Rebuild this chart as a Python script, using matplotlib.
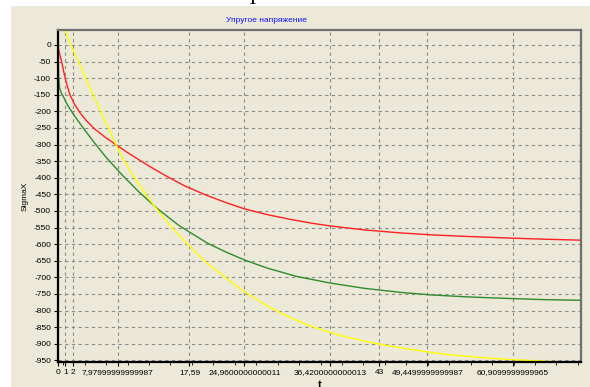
import numpy as np
import matplotlib
matplotlib.use('Agg')
import matplotlib.pyplot as plt
from matplotlib.patches import Rectangle

plt.rcParams['font.family'] = ['Liberation Sans', 'DejaVu Sans']
plt.rcParams['axes.unicode_minus'] = False

# curve readings: time t and sigma_x
t_red = [0, 0.2, 0.5, 0.95, 1.3, 1.6, 2.2, 2.9, 3.8, 4.9, 6.2, 7.6, 9.3, 11.2, 12.8,
         14.5, 17.0, 19.9, 22.5, 25.0, 28.0, 31.0, 34.0, 36.4, 39.0, 41.0, 45.75,
         50.0, 55.0, 60.9, 65.0, 70.0]
s_red = [-3, -25, -52, -100, -128, -150, -178, -203, -228, -253, -276, -298, -324,
         -351, -373, -395, -425, -453, -475, -494, -511, -525, -537, -545, -552,
         -557, -566, -572, -577, -582, -585, -588]

t_green = [0, 0.05, 0.1, 0.2, 0.4, 0.7, 1.2, 1.8, 2.6, 3.5, 4.95, 6.5, 8.6, 10.8,
           13.3, 16.2, 20.0, 22.5, 25.0, 28.0, 31.9, 36.4, 41.0, 45.75, 50.0, 55.0,
           60.9, 65.0, 70.0]
s_green = [0, -60, -100, -128, -143, -155, -178, -200, -226, -254, -297, -340, -392,
           -442, -493, -544, -597, -624, -648, -672, -697, -717, -733, -745, -753,
           -759, -764, -767, -769]

t_yellow = [0, 0.3, 0.6, 0.9, 1.7, 2.8, 3.85, 4.9, 5.9, 6.8, 7.7, 8.5, 9.3, 10.2,
            11.2, 12.3, 13.4, 14.6, 15.8, 17.1, 18.5, 20.0, 21.6, 23.3, 25.0, 26.5,
            28.1, 29.8, 31.5, 33.5, 36.0, 38.5, 41.0, 43.0, 45.75, 49.3, 52.4, 56.9,
            60.9, 65.6, 70.0]
s_yellow = [25, 60, 60, 45, 2, -54, -107, -159, -209, -254, -298, -334, -366, -398,
            -432, -467, -500, -533, -563, -594, -627, -658, -686, -716, -744, -765,
            -787, -807, -825, -844, -863, -879, -892, -901, -912, -924, -933, -942,
            -948, -953, -958]

xticks = [0, 1, 2, 7.97999999999987, 17.59, 24.9600000000011, 36.4200000000013,
          43, 49.4499999999987, 60.9099999999965]
xtick_labels = ['0', '1', '2', '7,97999999999987', '17,59', '24,9600000000011',
                '36,4200000000013', '43', '49,4499999999987', '60,9099999999965']
yticks = np.arange(0, -951, -50)

bg = '#ECE9D8'
fig = plt.figure(figsize=(5.9, 3.87), dpi=100, facecolor='white')
fig.patches.append(Rectangle((11 / 590, 0), 1, 381 / 387, transform=fig.transFigure,
                             facecolor=bg, edgecolor='none', zorder=-1))
ax = fig.add_axes([58 / 590, 25.3 / 387, 523 / 590, 331.7 / 387])
ax.set_facecolor(bg)

ax.plot(t_red, s_red, color='#FF2020', lw=1.0)
ax.plot(t_green, s_green, color='#2E8B2E', lw=1.0)
ax.plot(t_yellow, s_yellow, color='#FFFF00', lw=1.0)

ax.set_xlim(0, 70)
ax.set_ylim(-954, 45)
ax.set_xticks(xticks)
ax.set_xticklabels(xtick_labels)
ax.set_xticks(np.arange(0.7, 70, 2.87), minor=True)
ax.set_yticks(yticks)
ax.tick_params(axis='both', labelsize=6, length=3, width=0.8, pad=2)
ax.tick_params(axis='x', which='minor', length=2, width=0.6)
ax.grid(True, color='#8c8c8c', linestyle=(0, (3, 3)), lw=0.8)

for side in ('left', 'bottom'):
    ax.spines[side].set_color('black')
    ax.spines[side].set_linewidth(1.6)
for side in ('top', 'right'):
    ax.spines[side].set_color('#707070')
    ax.spines[side].set_linewidth(1.6)

ax.set_ylabel('SigmaX', fontsize=6)
ax.yaxis.set_label_coords(-0.057, 0.5)
ax.text(0.501, -0.055, 't', transform=ax.transAxes, ha='center', va='top',
        fontsize=8, fontweight='bold')
fig.text(266 / 590, 1 - 20 / 387, 'Упругое напряжение', ha='center', va='center',
         fontsize=6, color='#1010FF')
fig.text(253 / 590, 1 - 4 / 387, 'Т', ha='center', va='baseline', fontsize=14,
         family='Liberation Serif')

fig.savefig('out.png', dpi=100, facecolor=fig.get_facecolor())
